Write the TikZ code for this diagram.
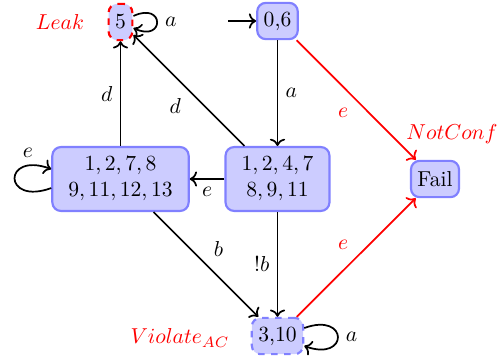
\documentclass[tikz,border=0pt]{standalone}
\usetikzlibrary{arrows.meta}
\begin{document}
\begin{tikzpicture}[x=0.463pt,y=0.463pt,
  state/.style={draw=blue!50, fill=blue!20, line width=1pt, rounded corners=4pt, minimum height=16.8pt, inner sep=3pt},
  bigstate/.style={state, align=center, inner xsep=7.4pt, minimum height=29.6pt},
  edgeline/.style={->, thick},
  redline/.style={->, thick, red},
  tag/.style={text=red}]
\useasboundingbox (0,0) rectangle (497,360);
% states
\node[state, draw=red, dashed] (s5) at (120.5,338) {5};
\node[state] (s06) at (277.5,339) {0,6};
\node[bigstate] (R) at (277.5,181) {$1,2,4,7$\\$8,9,11$};
\node[bigstate] (L) at (120.5,181) {$1,2,7,8$\\$9,11,12,13$};
\node[state] (fail) at (435,181) {Fail};
\node[state, dashed] (s310) at (277.5,24) {3,10};
% tags
\node[tag] (leak) at (60,338) {$Leak$};
\node[tag] (notconf) at (452,226) {$NotConf$};
\node[tag] (viol) at (180,22) {$Violate_{AC}$};
% initial
\coordinate (init) at (228,339);
\draw[edgeline] (init) -- (s06);
% edges
\draw[edgeline] (s06) -- node[midway,right] (la1) {$a$} (R);
\draw[redline] (s06) -- node[midway,below left] (le1) {$e$} (fail);
\draw[edgeline] (R) -- node[midway,below left] (ld1) {$d$} (s5);
\draw[edgeline] (L) -- node[midway,left] (ld2) {$d$} (s5);
\draw[edgeline] (R) -- node[midway,below] (le2) {$e$} (L);
\draw[edgeline] (L) -- node[midway,above right] (lb1) {$b$} (s310);
\draw[edgeline] (R) -- node[midway,left] (lb2) {$!b$} (s310);
\draw[redline] (s310) -- node[midway,above left] (le3) {$e$} (fail);
% loops
\draw[edgeline] ([yshift=2.8pt]s5.east) .. controls +(25:16pt) and +(-25:16pt) .. node[pos=0.5,right] (la2) {$a$} ([yshift=-2.8pt]s5.east);
\draw[edgeline] ([yshift=3.7pt]s310.east) .. controls +(20:22pt) and +(-20:22pt) .. node[pos=0.5,right] (la3) {$a$} ([yshift=-4.6pt]s310.east);
\draw[edgeline] ([yshift=-4.2pt]L.west) .. controls +(200:24pt) and +(160:24pt) .. node[pos=0.8,above] (le4) {$e$} ([yshift=4.6pt]L.west);
\end{tikzpicture}
\end{document}
